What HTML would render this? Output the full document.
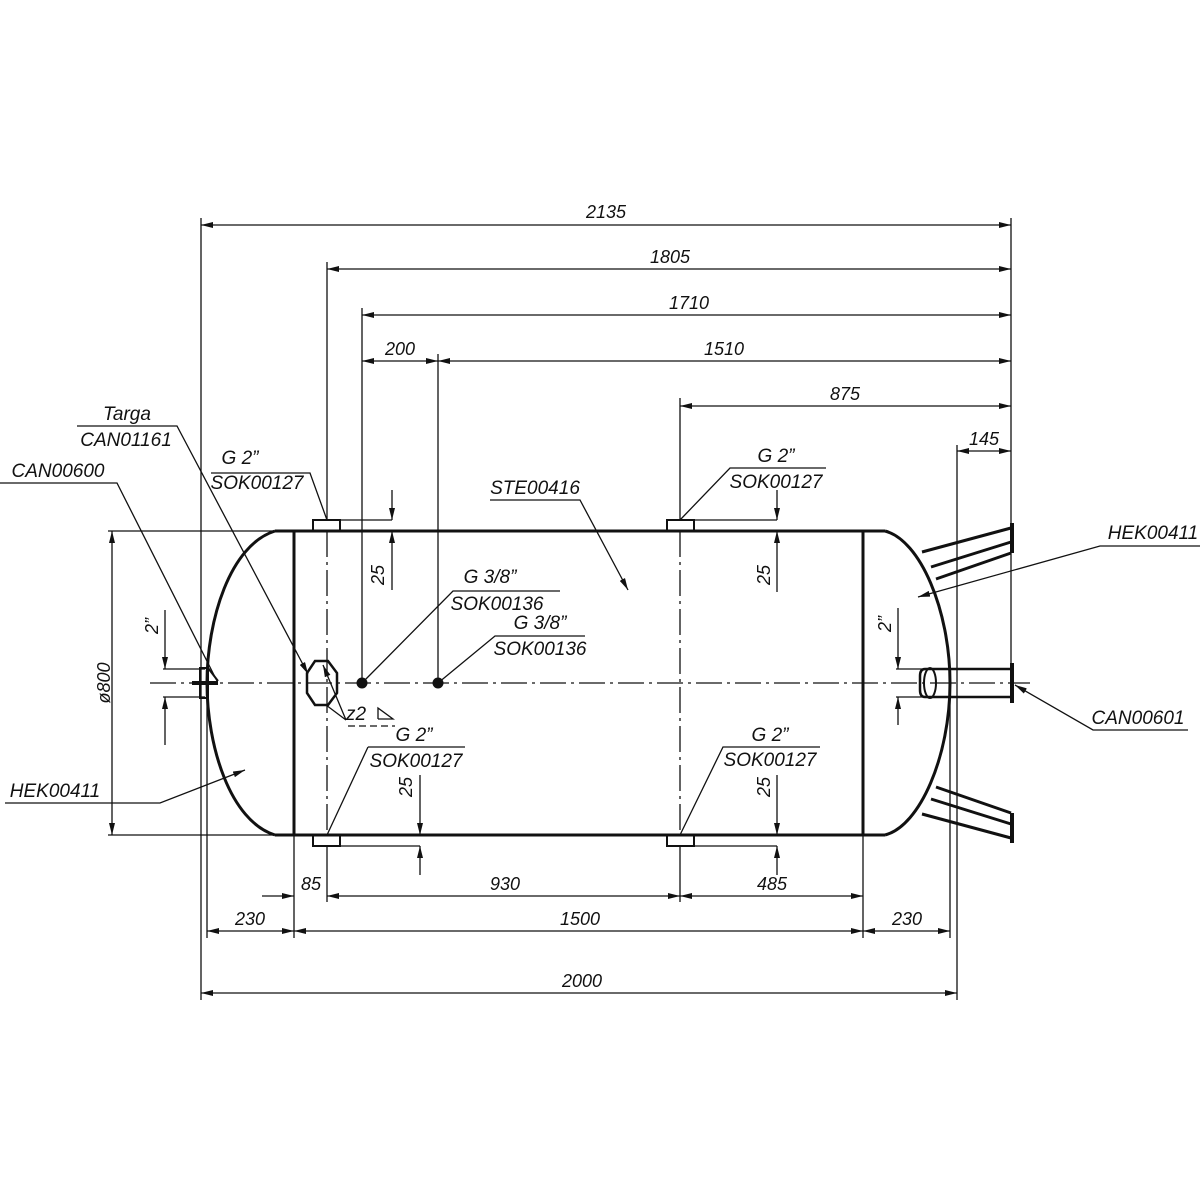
<!DOCTYPE html>
<html><head><meta charset="utf-8"><style>
html,body{margin:0;padding:0;background:#fff}
svg{display:block}
text{font-family:"Liberation Sans",sans-serif;font-style:italic;font-size:19px;fill:#111}
.d{font-size:18px}
</style></head><body>
<svg width="1200" height="1200" viewBox="0 0 1200 1200" xmlns="http://www.w3.org/2000/svg">
<defs>
<marker id="a" viewBox="0 0 12 6" refX="12" refY="3" markerWidth="12" markerHeight="6" orient="auto-start-reverse" markerUnits="userSpaceOnUse"><path d="M0,0 L12,3 L0,6 Z" fill="#111"/></marker>
</defs>
<g stroke="#111" fill="none" stroke-width="1.3">
<line x1="201" y1="218" x2="201" y2="1000"/>
<line x1="1011" y1="218" x2="1011" y2="700"/>
<line x1="327" y1="262" x2="327" y2="520"/>
<line x1="362" y1="308" x2="362" y2="683"/>
<line x1="438" y1="354" x2="438" y2="683"/>
<line x1="680" y1="398" x2="680" y2="520"/>
<line x1="957" y1="445" x2="957" y2="1000"/>
<line x1="950" y1="683" x2="950" y2="938"/>
<line x1="207" y1="683" x2="207" y2="938"/>
<line x1="294" y1="835" x2="294" y2="938"/>
<line x1="863" y1="835" x2="863" y2="938"/>
<line x1="327" y1="846" x2="327" y2="902"/>
<line x1="680" y1="846" x2="680" y2="902"/>
<line x1="201" y1="225" x2="1011" y2="225" marker-start="url(#a)" marker-end="url(#a)"/>
<line x1="327" y1="269" x2="1011" y2="269" marker-start="url(#a)" marker-end="url(#a)"/>
<line x1="362" y1="315" x2="1011" y2="315" marker-start="url(#a)" marker-end="url(#a)"/>
<line x1="362" y1="361" x2="438" y2="361" marker-start="url(#a)" marker-end="url(#a)"/>
<line x1="438" y1="361" x2="1011" y2="361" marker-start="url(#a)" marker-end="url(#a)"/>
<line x1="680" y1="406" x2="1011" y2="406" marker-start="url(#a)" marker-end="url(#a)"/>
<line x1="957" y1="451" x2="1011" y2="451" marker-start="url(#a)" marker-end="url(#a)"/>
<line x1="262" y1="896" x2="294" y2="896" marker-end="url(#a)"/>
<line x1="327" y1="896" x2="680" y2="896" marker-start="url(#a)" marker-end="url(#a)"/>
<line x1="680" y1="896" x2="863" y2="896" marker-start="url(#a)" marker-end="url(#a)"/>
<line x1="207" y1="931" x2="294" y2="931" marker-start="url(#a)" marker-end="url(#a)"/>
<line x1="294" y1="931" x2="863" y2="931" marker-start="url(#a)" marker-end="url(#a)"/>
<line x1="863" y1="931" x2="950" y2="931" marker-start="url(#a)" marker-end="url(#a)"/>
<line x1="201" y1="993" x2="957" y2="993" marker-start="url(#a)" marker-end="url(#a)"/>
<line x1="108" y1="531" x2="275" y2="531"/>
<line x1="108" y1="835" x2="275" y2="835"/>
<line x1="112" y1="531" x2="112" y2="835" marker-start="url(#a)" marker-end="url(#a)"/>
<line x1="150" y1="683" x2="1030" y2="683" stroke-dasharray="26,5,3,5"/>
<line x1="327" y1="531" x2="327" y2="835" stroke-dasharray="26,5,3,5"/>
<line x1="680" y1="531" x2="680" y2="835" stroke-dasharray="26,5,3,5"/>
<line x1="340" y1="520" x2="392" y2="520"/>
<line x1="392" y1="490" x2="392" y2="520" marker-end="url(#a)"/>
<line x1="392" y1="590" x2="392" y2="531" marker-end="url(#a)"/>
<line x1="694" y1="520" x2="777" y2="520"/>
<line x1="777" y1="490" x2="777" y2="520" marker-end="url(#a)"/>
<line x1="777" y1="592" x2="777" y2="531" marker-end="url(#a)"/>
<line x1="340" y1="846" x2="420" y2="846"/>
<line x1="420" y1="775" x2="420" y2="835" marker-end="url(#a)"/>
<line x1="420" y1="875" x2="420" y2="846" marker-end="url(#a)"/>
<line x1="694" y1="846" x2="777" y2="846"/>
<line x1="777" y1="775" x2="777" y2="835" marker-end="url(#a)"/>
<line x1="777" y1="875" x2="777" y2="846" marker-end="url(#a)"/>
<line x1="163" y1="669" x2="205" y2="669"/>
<line x1="163" y1="697" x2="205" y2="697"/>
<line x1="165" y1="610" x2="165" y2="669" marker-end="url(#a)"/>
<line x1="165" y1="745" x2="165" y2="697" marker-end="url(#a)"/>
<line x1="896" y1="669" x2="922" y2="669"/>
<line x1="896" y1="697" x2="922" y2="697"/>
<line x1="898" y1="608" x2="898" y2="669" marker-end="url(#a)"/>
<line x1="898" y1="725" x2="898" y2="697" marker-end="url(#a)"/>
<polyline points="77,426 177,426 308,674" marker-end="url(#a)"/>
<polyline points="0,483 117,483 217,681"/>
<polyline points="211,473 310,473 327,520"/>
<polyline points="560,591 453,591 362,683"/>
<polyline points="585,636 495,636 438,683"/>
<polyline points="368,747 465,747"/>
<polyline points="368,747 327,835"/>
<polyline points="490,500 580,500 628,590" marker-end="url(#a)"/>
<polyline points="826,468 730,468 680,520"/>
<polyline points="820,747 723,747 680,835"/>
<polyline points="5,803 160,803 245,770" marker-end="url(#a)"/>
<polyline points="1200,546 1100,546 918,597" marker-end="url(#a)"/>
<polyline points="1188,730 1093,730 1015,685" marker-end="url(#a)"/>
<polyline points="346,720 323,665" marker-end="url(#a)"/>
<polyline points="346,720 326,705"/>
<line x1="348" y1="726" x2="395" y2="726" stroke-dasharray="7,4"/>
<polyline points="378,719 378,708 393,719 378,719"/>
</g>
<g stroke="#111" fill="none" stroke-width="3">
<line x1="275" y1="531" x2="885" y2="531"/>
<line x1="275" y1="835" x2="885" y2="835"/>
<line x1="294" y1="531" x2="294" y2="835"/>
<line x1="863" y1="531" x2="863" y2="835"/>
<path d="M275,531 C230,545 207,620 207,683 C207,746 230,821 275,835"/>
<path d="M885,531 C920,540 950,610 950,683 C950,756 920,826 885,835"/>
<rect x="313" y="520" width="27" height="11" stroke-width="2"/>
<rect x="667" y="520" width="27" height="11" stroke-width="2"/>
<rect x="313" y="835" width="27" height="11" stroke-width="2"/>
<rect x="667" y="835" width="27" height="11" stroke-width="2"/>
<rect x="200" y="668" width="8" height="30" stroke-width="2"/>
<line x1="192" y1="683" x2="218" y2="683" stroke-width="4"/>
<path d="M208,668 L218,681" stroke-width="2"/>
<path d="M1011,669 L925,669 Q920,669 920,676 L920,690 Q920,697 925,697 L1011,697" stroke-width="2.5"/>
<line x1="1012" y1="663" x2="1012" y2="703" stroke-width="4"/>
<ellipse cx="930" cy="683" rx="6" ry="15" stroke-width="2"/>
<line x1="1012" y1="523" x2="1012" y2="553" stroke-width="4"/>
<line x1="922" y1="552" x2="1011" y2="528"/>
<line x1="931" y1="567" x2="1011" y2="542"/>
<line x1="936" y1="579" x2="1011" y2="553"/>
<line x1="1012" y1="813" x2="1012" y2="843" stroke-width="4"/>
<line x1="922" y1="814" x2="1011" y2="838"/>
<line x1="931" y1="799" x2="1011" y2="824"/>
<line x1="936" y1="787" x2="1011" y2="813"/>
<polygon points="315,661 328,661 337,673 337,693 328,705 315,705 307,693 307,673" stroke-width="2.5"/>
</g>
<circle cx="362" cy="683" r="5.5" fill="#111"/>
<circle cx="438" cy="683" r="5.5" fill="#111"/>
<text x="606" y="218" text-anchor="middle" class="d">2135</text>
<text x="670" y="263" text-anchor="middle" class="d">1805</text>
<text x="689" y="309" text-anchor="middle" class="d">1710</text>
<text x="400" y="355" text-anchor="middle" class="d">200</text>
<text x="724" y="355" text-anchor="middle" class="d">1510</text>
<text x="845" y="400" text-anchor="middle" class="d">875</text>
<text x="984" y="445" text-anchor="middle" class="d">145</text>
<text x="311" y="890" text-anchor="middle" class="d">85</text>
<text x="505" y="890" text-anchor="middle" class="d">930</text>
<text x="772" y="890" text-anchor="middle" class="d">485</text>
<text x="250" y="925" text-anchor="middle" class="d">230</text>
<text x="580" y="925" text-anchor="middle" class="d">1500</text>
<text x="907" y="925" text-anchor="middle" class="d">230</text>
<text x="582" y="987" text-anchor="middle" class="d">2000</text>
<text transform="translate(384,575) rotate(-90)" text-anchor="middle" class="d">25</text>
<text transform="translate(770,575) rotate(-90)" text-anchor="middle" class="d">25</text>
<text transform="translate(412,787) rotate(-90)" text-anchor="middle" class="d">25</text>
<text transform="translate(770,787) rotate(-90)" text-anchor="middle" class="d">25</text>
<text transform="translate(158,626) rotate(-90)" text-anchor="middle" class="d">2”</text>
<text transform="translate(891,624) rotate(-90)" text-anchor="middle" class="d">2”</text>
<text transform="translate(110,683) rotate(-90)" text-anchor="middle" class="d">ø800</text>
<text x="127" y="420" text-anchor="middle">Targa</text>
<text x="126" y="446" text-anchor="middle">CAN01161</text>
<text x="58" y="477" text-anchor="middle">CAN00600</text>
<text x="240" y="464" text-anchor="middle">G  2”</text>
<text x="257" y="489" text-anchor="middle">SOK00127</text>
<text x="490" y="583" text-anchor="middle">G  3/8”</text>
<text x="497" y="610" text-anchor="middle">SOK00136</text>
<text x="540" y="629" text-anchor="middle">G  3/8”</text>
<text x="540" y="655" text-anchor="middle">SOK00136</text>
<text x="346" y="720">z2</text>
<text x="414" y="741" text-anchor="middle">G  2”</text>
<text x="416" y="767" text-anchor="middle">SOK00127</text>
<text x="535" y="494" text-anchor="middle">STE00416</text>
<text x="776" y="462" text-anchor="middle">G  2”</text>
<text x="776" y="488" text-anchor="middle">SOK00127</text>
<text x="770" y="741" text-anchor="middle">G  2”</text>
<text x="770" y="766" text-anchor="middle">SOK00127</text>
<text x="55" y="797" text-anchor="middle">HEK00411</text>
<text x="1153" y="539" text-anchor="middle">HEK00411</text>
<text x="1138" y="724" text-anchor="middle">CAN00601</text>
</svg>
</body></html>
